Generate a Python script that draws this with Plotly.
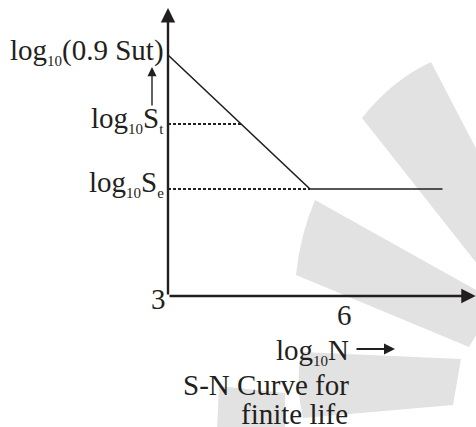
import plotly.graph_objects as go

# S-N curve in log-log form (log10 N on x, log10 S on y, S normalised so log10(0.9 Sut) = 1)
log_n = [3, 6, 8.8]
log_s = [1.0, 0.444, 0.444]

# reference stress levels
log_se = 0.444          # endurance limit
log_st = 0.714          # stress for finite life
log_n_st = 4.55         # life at which the curve crosses log10 St

x_origin = 3
x_tick = 6
x_axis_end = 9.5
y_axis_end = 1.195

INK = "#231f20"
FONT = "Liberation Serif"
W, H = 476, 427


def sub(t):
    return f"<sub><span style='font-size:15px'>{t}</span></sub>"


fig = go.Figure()

# sloping finite-life line and the horizontal endurance line
fig.add_trace(go.Scatter(x=log_n, y=log_s, mode="lines",
                         line=dict(color=INK, width=1.6), hoverinfo="skip"))
# dashed projections to the stress axis
fig.add_trace(go.Scatter(x=[x_origin, log_n_st], y=[log_st, log_st], mode="lines",
                         line=dict(color=INK, width=2, dash="3px,2px"), hoverinfo="skip"))
fig.add_trace(go.Scatter(x=[x_origin, log_n[1]], y=[log_se, log_se], mode="lines",
                         line=dict(color=INK, width=2, dash="3px,2px"), hoverinfo="skip"))

ann = []
# axes drawn as arrows
ann.append(dict(x=x_origin, y=y_axis_end, ax=x_origin, ay=0, axref="x", ayref="y",
                xref="x", yref="y", showarrow=True, arrowhead=2, arrowsize=1.2,
                arrowwidth=2.4, arrowcolor=INK, text=""))
ann.append(dict(x=x_axis_end, y=0, ax=x_origin, ay=0, axref="x", ayref="y",
                xref="x", yref="y", showarrow=True, arrowhead=2, arrowsize=1.2,
                arrowwidth=2.4, arrowcolor=INK, text=""))
# small pointer between the stress labels
ann.append(dict(x=x_origin, y=0.95, ax=x_origin, ay=0.784, axref="x", ayref="y",
                xref="x", yref="y", xshift=-16, showarrow=True, arrowhead=2,
                arrowsize=1.3, arrowwidth=1.4, arrowcolor=INK, text=""))

txt = dict(xref="x", yref="y", showarrow=False, font=dict(family=FONT, size=29, color=INK))
ann.append(dict(x=x_origin, y=log_s[0], xanchor="right", xshift=-2, yshift=4,
                text=f"log{sub('10')}(0.9 Sut)", **txt))
ann.append(dict(x=x_origin, y=log_st, xanchor="right", xshift=-2, yshift=4,
                text=f"log{sub('10')}S{sub('t')}", **txt))
ann.append(dict(x=x_origin, y=log_se, xanchor="right", xshift=-2, yshift=6,
                text=f"log{sub('10')}S{sub('e')}", **txt))
ann.append(dict(x=x_origin, y=0, xanchor="right", xshift=0, yshift=-3,
                text=str(x_origin), **txt))
ann.append(dict(x=x_tick, y=0, xanchor="center", xshift=35, yshift=-19,
                text=str(x_tick), **txt))
ann.append(dict(x=x_tick, y=0, xanchor="right", xshift=41, yshift=-55,
                text=f"log{sub('10')}N", **txt))
ann.append(dict(x=x_tick, y=0, xanchor="right", xshift=41, yshift=-89,
                text="S-N Curve for", **txt))
ann.append(dict(x=x_tick, y=0, xanchor="right", xshift=40, yshift=-118,
                text="finite life", **txt))
# arrow after the log10 N label
ann.append(dict(x=x_tick, y=0, xshift=85, yshift=-53, ax=-40, ay=0,
                xref="x", yref="y", showarrow=True, arrowhead=2, arrowsize=1.1,
                arrowwidth=2, arrowcolor=INK, text=""))


# light grey fan emblem behind the diagram (pixel outlines converted to paper units)
def path(cmds):
    out = []
    for c in cmds:
        if isinstance(c, str):
            out.append(c)
        else:
            out.append(f"{c[0] / W:.4f},{1 - c[1] / H:.4f}")
    return " ".join(out)


fan = [
    ["M", (431, 62), "Q", (392, 80), (362, 118), "L", (482, 270), "L", (482, 160), "Z"],
    ["M", (315, 200), "Q", (300, 235), (296, 275), "L", (469, 347), "L", (478, 332), "L", (478, 291), "Z"],
    ["M", (301, 352), "Q", (295, 385), (303, 418), "L", (453, 405), "L", (461, 359), "Z"],
    ["M", (219, 386), "L", (285, 393), "L", (285, 430), "L", (217, 430), "Z"],
]
shapes = [dict(type="path", xref="paper", yref="paper", path=path(p),
               fillcolor="#e2e2e2", line=dict(width=0), layer="below") for p in fan]

x_lo = x_origin - 168 / 47.33
y_hi = 296 / 241
fig.update_layout(
    width=W, height=H, margin=dict(l=0, r=0, t=0, b=0),
    paper_bgcolor="white", plot_bgcolor="rgba(0,0,0,0)",
    showlegend=False, annotations=ann, shapes=shapes,
    xaxis=dict(range=[x_lo, x_lo + W / 47.33], visible=False, fixedrange=True),
    yaxis=dict(range=[y_hi - H / 241, y_hi], visible=False, fixedrange=True),
)

fig.write_html("out.html", config={"displayModeBar": False})
